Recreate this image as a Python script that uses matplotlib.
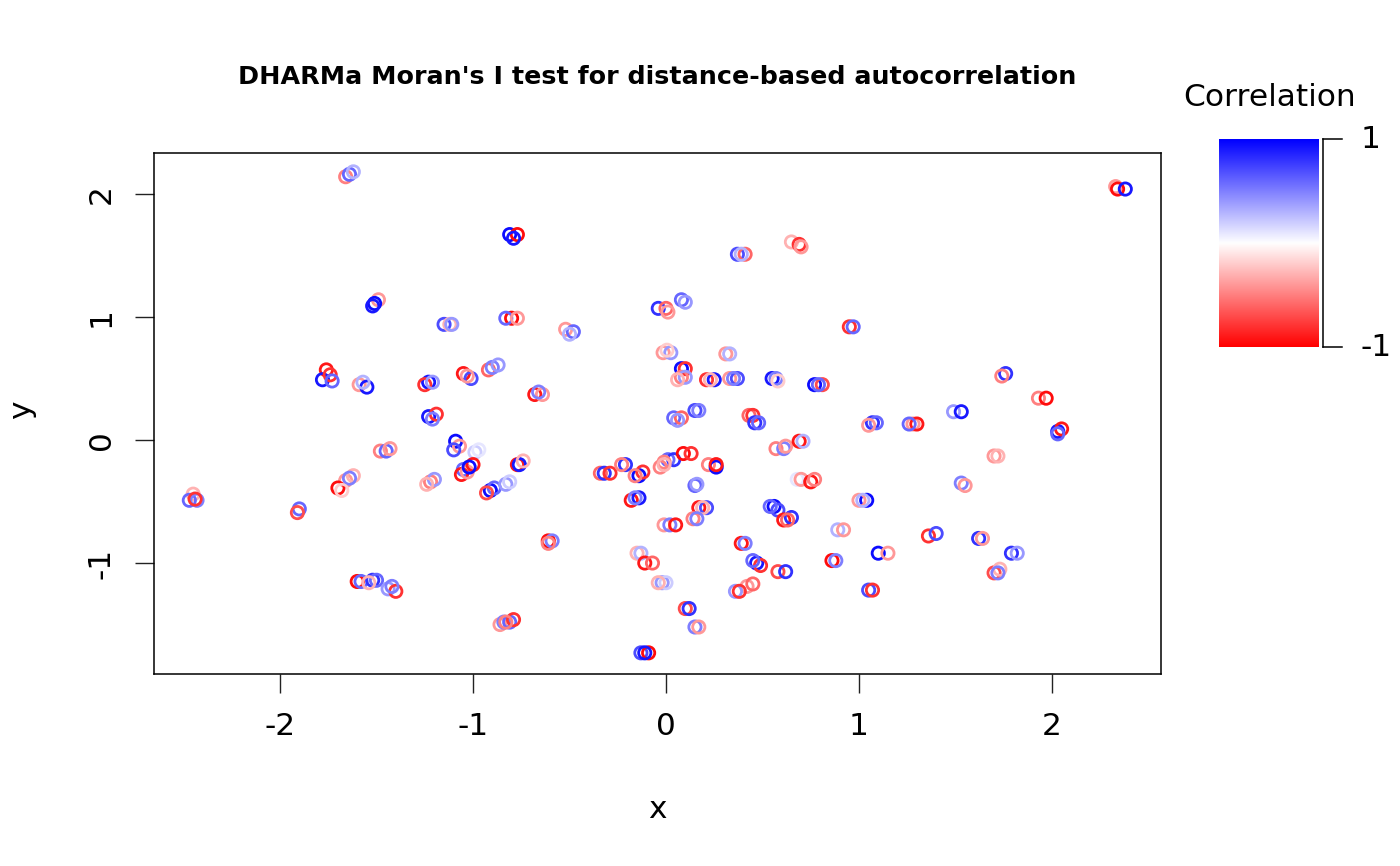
import numpy as np
import matplotlib
matplotlib.use("Agg")
import matplotlib.pyplot as plt
from matplotlib.colors import LinearSegmentedColormap, Normalize
from matplotlib.lines import Line2D

# ---------------- data ----------------
title = "DHARMa Moran's I test for distance-based autocorrelation"
x_ticks = [-2, -1, 0, 1, 2]
y_ticks = [-1, 0, 1, 2]
cbar_ticks = [1, -1]

# cluster centres (x, y)
cluster_x = [-1.64, -1.51, -1.13, -1.76, -1.57, -1.23, -1.03, -0.90, -1.21, -1.09,
             -0.99, -1.45, -1.64, -1.70, -2.45, -1.90, -1.22, -1.05, -1.00, -0.91,
             -1.60, -1.52, -1.42, -0.86, -0.81, -0.79, -0.80, -0.50, -0.66, 0.39,
             0.67, -0.02, 0.08, 0.005, 0.08, 0.08, 0.23, 0.35, 0.31, 0.55,
             0.79, 0.06, 0.15, 0.43, 0.46, -0.77, -0.83, -0.61, -0.32, -0.21,
             -0.14, -0.16, 0.01, -0.03, 0.11, 0.24, 0.15, 0.19, 0.14, 0.02,
             0.59, 0.69, 0.68, 0.75, 0.56, 0.63, 0.39, 0.47, 0.60, 0.42,
             0.36, -0.15, -0.09, -0.02, 0.10, 0.15, -0.11, 2.36, 0.95, 1.76,
             1.95, 1.51, 1.07, 1.28, 2.03, 1.70, 1.53, 1.02, 0.89, 0.86,
             1.12, 1.38, 1.62, 1.79, 1.70, 1.05]
cluster_y = [2.16, 1.11, 0.94, 0.53, 0.45, 0.47, 0.52, 0.59, 0.19, -0.05,
             -0.10, -0.09, -0.31, -0.39, -0.47, -0.56, -0.34, -0.26, -0.22, -0.41,
             -1.15, -1.14, -1.21, -1.50, -1.48, 1.67, 0.99, 0.88, 0.37, 1.51,
             1.59, 1.07, 1.14, 0.71, 0.58, 0.51, 0.49, 0.50, 0.70, 0.50,
             0.45, 0.18, 0.24, 0.20, 0.14, -0.20, -0.36, -0.82, -0.27, -0.20,
             -0.29, -0.47, -0.16, -0.22, -0.11, -0.20, -0.37, -0.55, -0.64, -0.69,
             -0.07, -0.01, -0.32, -0.34, -0.54, -0.65, -0.84, -1.00, -1.07, -1.19,
             -1.23, -0.92, -1.00, -1.16, -1.37, -1.52, -1.73, 2.04, 0.92, 0.54,
             0.34, 0.23, 0.14, 0.13, 0.07, -0.13, -0.35, -0.49, -0.73, -0.98,
             -0.92, -0.78, -0.80, -0.92, -1.08, -1.22]

# observations per cluster: (dx, dy, correlation)
members = [
    [(-0.02, -0.02, -0.5), (0, 0, 0.6), (0.02, 0.02, 0.3)],
    [(0.02, 0.03, -0.4), (0, 0, 0.95), (-0.01, -0.02, 0.9)],
    [(-0.02, 0, 0.7), (0.01, 0, -0.3), (0.02, 0, 0.4)],
    [(0, 0.04, -0.9), (-0.02, -0.04, 0.9), (0.02, 0, -0.8), (0.03, -0.05, 0.6)],
    [(-0.02, 0, -0.4), (0.02, -0.02, 0.9), (0, 0.02, 0.3)],
    [(0, 0, 0.9), (-0.02, -0.02, -0.8), (0.02, 0, 0.4)],
    [(-0.02, 0.02, -0.9), (0.02, -0.02, 0.7), (0, 0, -0.4)],
    [(-0.02, -0.02, -0.6), (0, 0, 0.5), (0.03, 0.02, 0.4)],
    [(-0.02, 0, 0.9), (0.02, 0.02, -0.8), (0, -0.02, 0.5)],
    [(0, 0.04, 0.95), (0.02, 0, -0.4), (-0.01, -0.03, 0.7)],
    [(0, 0, 0.2), (0.02, 0.02, 0.1)],
    [(-0.03, 0, -0.5), (0, 0, 0.6), (0.02, 0.02, -0.4)],
    [(-0.02, -0.02, -0.4), (0.02, 0.02, -0.3), (0, 0, 0.5)],
    [(0, 0, -0.95), (0.02, -0.02, -0.2)],
    [(0, 0.03, -0.3), (-0.02, -0.02, 0.6), (0.02, -0.02, 0.5), (0.01, -0.01, -0.8)],
    [(0, 0, 0.6), (-0.01, -0.03, -0.7)],
    [(0, 0, -0.5), (0.02, 0.02, 0.4), (-0.02, -0.02, -0.3)],
    [(0, 0.02, 0.6), (-0.01, -0.02, -0.9), (0.02, 0, -0.4)],
    [(0, 0.02, -0.9), (-0.02, 0, 0.95)],
    [(0, 0, 0.95), (0.02, 0.02, 0.6), (-0.02, -0.02, -0.7)],
    [(0, 0, -0.95), (0.02, 0, 0.6)],
    [(0, 0, 0.8), (0.02, 0, 0.6), (-0.02, -0.02, -0.3)],
    [(-0.02, 0, 0.4), (0.02, -0.02, -0.8), (0, 0.02, 0.5)],
    [(0, 0, -0.4), (0.02, 0.02, 0.5)],
    [(0, 0, 0.6), (0.02, 0.02, -0.8), (-0.02, 0, -0.5)],
    [(-0.02, 0, 0.95), (0.02, 0, -0.95), (0, -0.03, 0.9)],
    [(0, 0, -0.95), (-0.03, 0, 0.6), (0.03, 0, -0.4)],
    [(-0.02, 0.02, -0.4), (0.02, 0, 0.6), (0, -0.02, 0.3)],
    [(-0.02, 0, -0.9), (0.02, 0, -0.4), (0, 0.02, 0.5)],
    [(-0.02, 0, 0.7), (0.02, 0, -0.6), (0, 0, 0.3)],
    [(-0.02, 0.02, -0.3), (0.02, 0, -0.8), (0.03, -0.02, -0.4)],
    [(-0.02, 0, 0.8), (0.02, 0, -0.6), (0.03, -0.03, -0.4)],
    [(0, 0, 0.6), (0.02, -0.02, 0.4)],
    [(-0.02, 0, -0.4), (0.02, 0, 0.4), (0, 0.02, -0.2)],
    [(0, 0, 0.95), (0.02, 0, -0.8)],
    [(0, 0, -0.5), (0.02, 0, 0.4), (-0.02, -0.02, -0.3)],
    [(-0.02, 0, -0.8), (0.02, 0, 0.9), (0, 0, -0.3)],
    [(-0.02, 0, -0.4), (0.02, 0, 0.7), (0, 0, 0.5)],
    [(0, 0, -0.4), (0.02, 0, 0.3)],
    [(0, 0, 0.9), (0.02, 0, 0.5), (0.03, -0.02, -0.2)],
    [(-0.02, 0, 0.95), (0.02, 0, -0.7), (0, 0, 0.6)],
    [(-0.02, 0, 0.6), (0.02, 0, -0.6), (0, -0.02, 0.4)],
    [(0, 0, 0.7), (0.02, 0, 0.5)],
    [(0, 0, -0.6), (0.02, 0, -0.8)],
    [(0, 0, 0.8), (0.02, 0, 0.6)],
    [(0, 0, -0.9), (0.01, 0, 0.9), (0.03, 0.03, -0.3)],
    [(0, 0, 0.4), (0.02, 0.02, 0.2)],
    [(0, 0, -0.95), (0.02, 0, 0.5), (0, -0.02, -0.5)],
    [(-0.02, 0, -0.6), (0, 0, 0.8), (0.03, 0, -0.8)],
    [(0, 0, 0.8), (-0.02, 0, -0.5)],
    [(0, 0, 0.95), (0.02, 0.03, -0.8), (-0.02, 0, -0.5)],
    [(-0.02, -0.02, -0.9), (0.02, 0, 0.9), (0, 0, 0.5)],
    [(0, 0, 0.6), (0.03, 0, 0.8), (-0.02, -0.02, -0.5)],
    [(0, 0, -0.5), (0.02, 0.02, -0.3)],
    [(-0.02, 0, -0.95), (0.02, 0, -0.8)],
    [(-0.02, 0, -0.5), (0.02, -0.02, 0.95), (0.02, 0, -0.9)],
    [(0, 0, 0.6), (0.01, 0.01, 0.4)],
    [(-0.02, 0, -0.9), (0.02, 0, 0.7), (0, 0, -0.3)],
    [(0, 0, -0.5), (0.02, 0, 0.5)],
    [(-0.03, 0, -0.4), (0, 0, 0.5), (0.03, 0, -0.9)],
    [(-0.02, 0, -0.5), (0.02, 0, 0.5), (0.03, 0.02, -0.4)],
    [(0, 0, -0.9), (0.02, 0, 0.3)],
    [(0, 0, 0.1), (0.02, 0, -0.4)],
    [(0, 0, -0.9), (0.02, 0.02, -0.5)],
    [(0, 0, 0.95), (0.02, -0.03, 0.7), (-0.02, 0, 0.6)],
    [(-0.02, 0, -0.9), (0.02, 0.02, 0.8), (0, 0, -0.6)],
    [(0, 0, -0.9), (0.02, 0, 0.5)],
    [(0, 0, 0.9), (0.02, -0.02, -0.8), (-0.02, 0.02, 0.6)],
    [(-0.02, 0, -0.7), (0.02, 0, 0.8)],
    [(0, 0, -0.4), (0.03, 0.02, -0.6)],
    [(0, 0, 0.4), (0.02, 0, -0.8)],
    [(0, 0, -0.3), (0.02, 0, 0.3)],
    [(-0.02, 0, -0.9), (0.02, 0, -0.6)],
    [(0, 0, 0.4), (0.02, 0, 0.2), (-0.02, 0, -0.3)],
    [(0, 0, -0.7), (0.02, 0, 0.8)],
    [(0, 0, 0.5), (0.02, 0, -0.4)],
    [(-0.02, 0, 0.7), (0.02, 0, -0.95), (0, 0, 0.9)],
    [(-0.03, 0.02, -0.4), (-0.02, 0, -0.95), (0.02, 0, 0.9)],
    [(0, 0, -0.8), (0.02, 0, 0.6)],
    [(0, 0, 0.8), (-0.02, -0.02, -0.5)],
    [(-0.02, 0, -0.5), (0.02, 0, -0.95)],
    [(-0.02, 0, 0.4), (0.02, 0, 0.9)],
    [(0, 0, 0.8), (0.02, 0, 0.6), (-0.02, -0.02, -0.4)],
    [(0, 0, -0.4), (0.02, 0, -0.9), (-0.02, 0, 0.6)],
    [(0, 0, 0.9), (0.02, 0.02, -0.9), (0, -0.02, 0.6)],
    [(0, 0, -0.4), (0.02, 0, -0.3)],
    [(0, 0, 0.5), (0.02, -0.02, -0.4)],
    [(0.02, 0, 0.95), (-0.02, 0, -0.4), (0, 0, 0.3)],
    [(0, 0, 0.3), (0.03, 0, -0.4)],
    [(0, 0, -0.95), (0.02, 0, 0.5)],
    [(-0.02, 0, 0.95), (0.03, 0, -0.4)],
    [(-0.02, 0, -0.8), (0.02, 0.02, 0.7)],
    [(0, 0, 0.8), (0.02, 0, -0.4)],
    [(0, 0, 0.8), (0.03, 0, 0.4)],
    [(0, 0, -0.7), (0.03, 0.03, -0.3), (0.02, 0, 0.5)],
    [(0, 0, 0.7), (0.02, 0, -0.8)],
]

# --------------- build observations ---------------
xs, ys, cs = [], [], []
for cx, cy, mem in zip(cluster_x, cluster_y, members):
    for dx, dy, c in mem:
        xs.append(cx + dx)
        ys.append(cy + dy)
        cs.append(c)
xs = np.array(xs); ys = np.array(ys); cs = np.array(cs)

W, H = 1400, 866
plt.rcParams['font.family'] = ['DejaVu Sans']
fig = plt.figure(figsize=(W / 100, H / 100), dpi=100)

def fx(px):
    return px / W

def fy(py):
    return 1 - py / H

cmap = LinearSegmentedColormap.from_list("rwb", ["#FF0000", "#FFFFFF", "#0000FF"])
norm = Normalize(-1, 1)

ax = fig.add_axes([fx(154), fy(674), fx(1161) - fx(154), fy(153) - fy(674)])
ax.scatter(xs, ys, s=78, facecolors='none', edgecolors=cmap(norm(cs)),
           linewidths=2.0, zorder=3)
ax.set_xlim(-2.653, 2.565)
ax.set_ylim(-1.902, 2.333)
ax.set_xticks(x_ticks)
ax.set_yticks(y_ticks)
ax.set_xticklabels([str(t) for t in x_ticks])
ax.set_yticklabels([str(t) for t in y_ticks], rotation=90, va='center')
ax.tick_params(axis='both', direction='out', length=13.5, width=1.0,
               labelsize=22.5, pad=14, color='#222222')
for sp in ax.spines.values():
    sp.set_linewidth(1.1)

fig.text(fx(657), fy(77), title, ha='center', va='center', fontsize=18.3,
         fontweight='bold')
fig.text(fx(657), fy(810), "x", ha='center', va='center', fontsize=22.5)
fig.text(fx(22), fy(410), "y", ha='center', va='center', fontsize=22.5, rotation=90)

# colour bar
cax = fig.add_axes([fx(1219), fy(347), fx(1319) - fx(1219), fy(139) - fy(347)])
grad = np.linspace(-1, 1, 256).reshape(-1, 1)
cax.imshow(grad, aspect='auto', cmap=cmap, norm=norm, origin='lower',
           extent=[0, 1, -1, 1])
cax.set_axis_off()

bx = fx(1323)
fig.add_artist(Line2D([bx, bx], [fy(139), fy(347)], color='black', lw=1.1))
for t in cbar_ticks:
    yy = fy(139) if t == 1 else fy(347)
    fig.add_artist(Line2D([bx, fx(1342)], [yy, yy], color='black', lw=1.1))
    fig.text(fx(1361), yy, str(t), ha='left', va='center', fontsize=22.5)
fig.text(fx(1270), fy(97), "Correlation", ha='center', va='center', fontsize=22.5)

fig.savefig("out.png", dpi=100)
